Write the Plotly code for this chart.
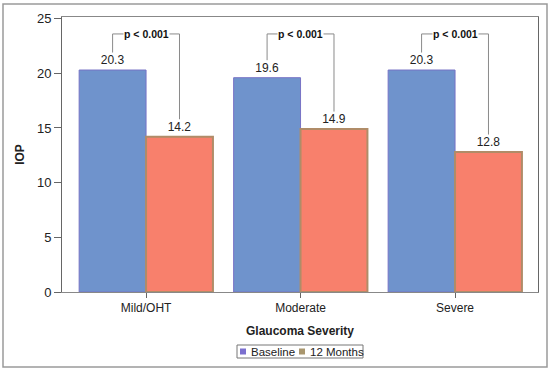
import plotly.graph_objects as go

categories = ["Mild/OHT", "Moderate", "Severe"]
baseline = [20.3, 19.6, 20.3]
months12 = [14.2, 14.9, 12.8]
p_labels = ["p < 0.001", "p < 0.001", "p < 0.001"]
y_ticks = [0, 5, 10, 15, 20, 25]
series_names = ["Baseline", "12 Months"]
legend_colors = ["#7B6FCF", "#A9966E"]

W = 0.433
FONT = "Liberation Sans, Arial, sans-serif"
idx = list(range(len(categories)))

fig = go.Figure()
fig.add_trace(go.Bar(
    x=idx, y=baseline, width=W, offset=-W, name=series_names[0],
    marker=dict(color="#6F93CC", line=dict(color="#7773C6", width=1)),
    text=[f"{v:.1f}" for v in baseline], textposition="outside",
    textfont=dict(size=12, color="#222"), cliponaxis=False,
))
fig.add_trace(go.Bar(
    x=idx, y=months12, width=W, offset=0, name=series_names[1],
    marker=dict(color="#F8806C", line=dict(color="#B08C68", width=2)),
    text=[f"{v:.1f}" for v in months12], textposition="outside",
    textfont=dict(size=12, color="#222"), cliponaxis=False,
))

top = 23.6
gap = 1.6
for i in idx:
    xl = i - W / 2
    xr = i + W / 2
    fig.add_trace(go.Scatter(
        x=[xl, xl, xr, xr],
        y=[baseline[i] + gap, top, top, months12[i] + gap],
        mode="lines", line=dict(color="#8a8a8a", width=1),
        showlegend=False, hoverinfo="skip",
    ))
    fig.add_annotation(x=i, y=top, text=f"<b>{p_labels[i]}</b>", showarrow=False,
                       font=dict(size=10.5, color="#111", family=FONT),
                       bgcolor="white", borderpad=0, xref="x", yref="y")

L, R, T, B = 62, 12, 17, 78
pw, ph = 550 - L - R, 370 - T - B


def px(xp):
    return (xp - L) / pw


def py(yp):
    return (370 - B - yp) / ph


# outer frame
fig.add_shape(type="rect", xref="paper", yref="paper",
              x0=px(3), x1=px(547), y0=py(367), y1=py(4),
              line=dict(color="#9a9a9a", width=1.5), layer="below")

# legend box
fig.add_shape(type="rect", xref="paper", yref="paper",
              x0=px(237), x1=px(363), y0=py(358), y1=py(345),
              line=dict(color="#777", width=1))
legend_x = [243, 302]
for k, name in enumerate(series_names):
    fig.add_shape(type="rect", xref="paper", yref="paper",
                  x0=px(legend_x[k] - 3), x1=px(legend_x[k] + 3),
                  y0=py(354.5), y1=py(348.5),
                  fillcolor=legend_colors[k], line=dict(width=0))
    fig.add_annotation(x=px(legend_x[k] + 6), y=py(351.5), xref="paper", yref="paper",
                       text=name, showarrow=False, xanchor="left", yanchor="middle",
                       font=dict(size=11.5, color="#222", family=FONT))

fig.update_layout(
    width=550, height=370,
    margin=dict(l=L, r=R, t=T, b=B, autoexpand=False),
    paper_bgcolor="white", plot_bgcolor="white",
    font=dict(family=FONT, size=12, color="#222"),
    barmode="overlay",
    showlegend=False,
    xaxis=dict(
        tickvals=idx, ticktext=categories, range=[-0.544, 2.537],
        showgrid=False, zeroline=False, showline=True, linecolor="#888",
        mirror=True, ticks="outside", ticklen=5, tickcolor="#666",
        title=dict(text="<b>Glaucoma Severity</b>", font=dict(size=12), standoff=12),
        tickfont=dict(size=12), automargin=False,
    ),
    yaxis=dict(
        range=[0, 25.15], tickvals=y_ticks, showgrid=False, zeroline=False,
        showline=True, linecolor="#666", mirror=True, ticks="outside",
        ticklen=7, tickcolor="#666",
        title=dict(text="<b>IOP</b>", font=dict(size=12), standoff=9),
        tickfont=dict(size=13), automargin=False,
    ),
)

fig.write_html("out.html", config={"displayModeBar": False},
               post_script="document.body.style.margin='0';")
